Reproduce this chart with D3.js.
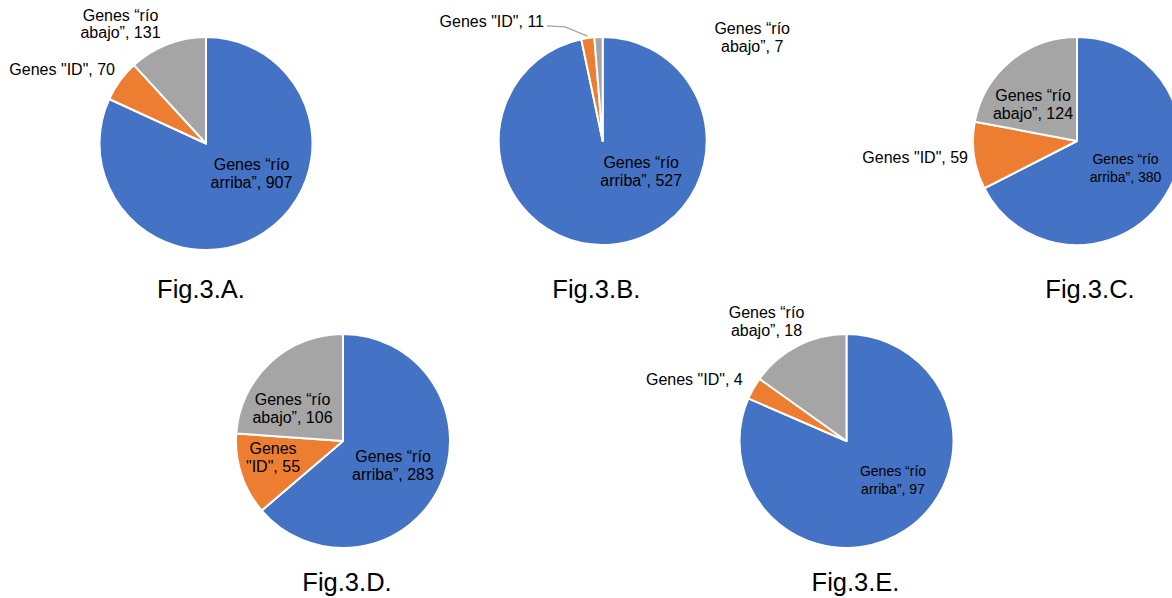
<!DOCTYPE html>
<html>
<head>
<meta charset="utf-8">
<script src="https://cdn.jsdelivr.net/npm/d3@7"></script>
<style>
  html, body { margin: 0; padding: 0; background: #fff; }
  svg { display: block; font-family: "Liberation Sans", Arial, sans-serif; }
</style>
</head>
<body>
<div id="chart"></div>
<script>
  // categories in clockwise order from 12 o'clock
  const categories = ["arriba", "ID", "abajo"];
  const valuesA = [907, 70, 131];
  const valuesB = [527, 11, 7];
  const valuesC = [380, 59, 124];
  const valuesD = [283, 55, 106];
  const valuesE = [97, 4, 18];
  const figTitles = ["Fig.3.A.", "Fig.3.B.", "Fig.3.C.", "Fig.3.D.", "Fig.3.E."];

  const colors = d3.scaleOrdinal(categories, ["#4472C4", "#ED7D31", "#A5A5A5"]);

  const width = 1172, height = 598;

  // label text for a slice, split in lines
  function labelLines(cat, value, wrapID) {
    if (cat === "ID") return wrapID ? ["Genes", `"ID", ${value}`] : [`Genes "ID", ${value}`];
    return ["Genes \u201cr\u00edo", `${cat}\u201d, ${value}`];
  }

  // layout: pie centre, radius, title position, label offsets from centre (dx, dy = first baseline)
  const pies = [
    { values: valuesA, cx: 206, cy: 143.5, r: 106.5, tx: 201, ty: 297.5,
      labels: {
        arriba: { dx: 45.5, dy: 26.5, size: 16 },
        ID: { dx: -91, dy: -68.5, size: 16, anchor: "end" },
        abajo: { dx: -85.5, dy: -123, size: 16 } } },
    { values: valuesB, cx: 602.7, cy: 141, r: 104, tx: 596.3, ty: 297.5,
      labels: {
        arriba: { dx: 38.5, dy: 27.3, size: 16 },
        ID: { dx: -58.7, dy: -113.7, size: 16, anchor: "end", leader: true },
        abajo: { dx: 149.5, dy: -106.7, size: 16 } } },
    { values: valuesC, cx: 1077, cy: 141, r: 104, tx: 1090, ty: 297.5,
      labels: {
        arriba: { dx: 48.5, dy: 23, size: 14 },
        ID: { dx: -109, dy: 21.5, size: 16, anchor: "end" },
        abajo: { dx: -44, dy: -40.3, size: 16 } } },
    { values: valuesD, cx: 343, cy: 441, r: 107, tx: 347, ty: 591,
      labels: {
        arriba: { dx: 50, dy: 20.7, size: 16 },
        ID: { dx: -70, dy: 13.3, size: 16, wrap: true },
        abajo: { dx: -50.5, dy: -36, size: 16 } } },
    { values: valuesE, cx: 846.5, cy: 441, r: 107, tx: 855.5, ty: 591,
      labels: {
        arriba: { dx: 46.5, dy: 35, size: 14 },
        ID: { dx: -103.8, dy: -56, size: 16, anchor: "end" },
        abajo: { dx: -80, dy: -122.7, size: 16 } } }
  ];

  const pie = d3.pie().sort(null).value(d => d.value);

  const svg = d3.select("#chart").append("svg")
    .attr("width", width)
    .attr("height", height)
    .attr("viewBox", [0, 0, width, height]);

  svg.append("rect").attr("width", width).attr("height", height).attr("fill", "#fff");

  pies.forEach((p, i) => {
    const data = categories.map((c, k) => ({ cat: c, value: p.values[k] }));
    const arcs = pie(data);
    const arc = d3.arc().innerRadius(0).outerRadius(p.r);

    const g = svg.append("g").attr("transform", `translate(${p.cx},${p.cy})`);

    g.selectAll("path")
      .data(arcs)
      .join("path")
        .attr("d", arc)
        .attr("fill", d => colors(d.data.cat))
        .attr("stroke", "#fff")
        .attr("stroke-width", 2)
        .attr("stroke-linejoin", "round");

    // leader lines for tiny slices
    arcs.forEach(d => {
      const lab = p.labels[d.data.cat];
      if (!lab.leader) return;
      const mid = (d.startAngle + d.endAngle) / 2;
      const ex = (p.r + 2) * Math.sin(mid), ey = -(p.r + 2) * Math.cos(mid);
      const sx = lab.dx + 3, sy = lab.dy - 1.5;
      g.append("path")
        .attr("d", d3.line()([[sx, sy], [sx + 18, sy + 1], [ex, ey]]))
        .attr("fill", "none")
        .attr("stroke", "#A5A5A5")
        .attr("stroke-width", 1.3);
    });

    const lg = g.append("g").attr("fill", "#000");
    arcs.forEach(d => {
      const lab = p.labels[d.data.cat];
      const lines = labelLines(d.data.cat, d.data.value, lab.wrap);
      const t = lg.append("text")
        .attr("x", lab.dx)
        .attr("y", lab.dy)
        .attr("font-size", lab.size)
        .attr("text-anchor", lab.anchor || "middle");
      lines.forEach((s, j) => {
        t.append("tspan")
          .attr("x", lab.dx)
          .attr("dy", j === 0 ? 0 : 17.8)
          .text(s);
      });
    });

    svg.append("text")
      .attr("x", p.tx)
      .attr("y", p.ty)
      .attr("text-anchor", "middle")
      .attr("font-size", 25.5)
      .attr("fill", "#000")
      .text(figTitles[i]);
  });
</script>
</body>
</html>
